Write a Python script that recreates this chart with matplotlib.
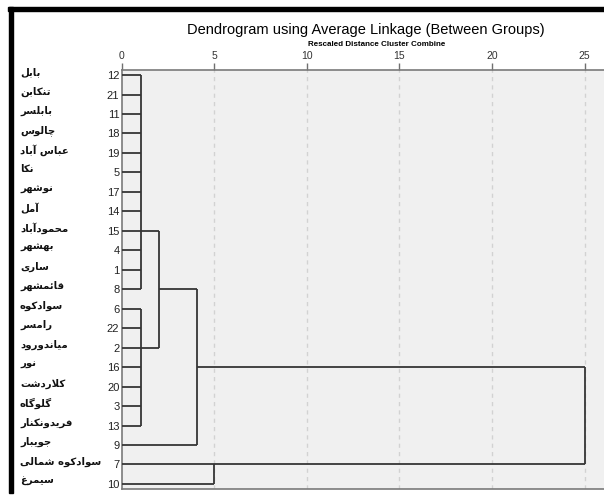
import matplotlib
matplotlib.use("Agg")
import matplotlib.pyplot as plt
from matplotlib.patches import Rectangle
from matplotlib import transforms

# شماره موارد و نام شهرستان ها به ترتیب ردیف های دندروگرام
leaf_ids = [12, 21, 11, 18, 19, 5, 17, 14, 15, 4, 1, 8,
            6, 22, 2, 16, 20, 3, 13, 9, 7, 10]
leaf_names = ["بابل", "تنکابن", "بابلسر", "چالوس", "عباس آباد", "نکا",
              "نوشهر", "آمل", "محمودآباد", "بهشهر", "ساری", "قائمشهر",
              "سوادکوه", "رامسر", "میاندورود", "نور", "کلاردشت", "گلوگاه",
              "فریدونکنار", "جویبار", "سوادکوه شمالی", "سیمرغ"]

# ادغام خوشه ها: اعضا (شماره مورد یا نام خوشه)، فاصله، ردیف نمایش
merge_names = ["A", "B", "AB", "ABJ", "SS", "ALL"]
merge_children = [
    [12, 21, 11, 18, 19, 5, 17, 14, 15, 4, 1, 8],
    [6, 22, 2, 16, 20, 3, 13],
    ["A", "B"],
    ["AB", 9],
    [7, 10],
    ["ABJ", "SS"],
]
merge_dist = [1.05, 1.05, 2.05, 4.05, 5.0, 25.0]
merge_row_of = [15, 2, 8, 16, 7, None]   # case whose row carries the link

x_ticks = [0, 5, 10, 15, 20, 25]

# --- simple arabic/persian shaping (matplotlib has no text layout for it) ---
FORMS = {
    "ا": ("\uFE8D", "\uFE8E", None, None),
    "آ": ("\uFE81", "\uFE82", None, None),
    "د": ("\uFEA9", "\uFEAA", None, None),
    "ر": ("\uFEAD", "\uFEAE", None, None),
    "و": ("\uFEED", "\uFEEE", None, None),
    "ب": ("\uFE8F", "\uFE90", "\uFE91", "\uFE92"),
    "ت": ("\uFE95", "\uFE96", "\uFE97", "\uFE98"),
    "ج": ("\uFE9D", "\uFE9E", "\uFE9F", "\uFEA0"),
    "ح": ("\uFEA1", "\uFEA2", "\uFEA3", "\uFEA4"),
    "س": ("\uFEB1", "\uFEB2", "\uFEB3", "\uFEB4"),
    "ش": ("\uFEB5", "\uFEB6", "\uFEB7", "\uFEB8"),
    "ع": ("\uFEC9", "\uFECA", "\uFECB", "\uFECC"),
    "غ": ("\uFECD", "\uFECE", "\uFECF", "\uFED0"),
    "ف": ("\uFED1", "\uFED2", "\uFED3", "\uFED4"),
    "ق": ("\uFED5", "\uFED6", "\uFED7", "\uFED8"),
    "ل": ("\uFEDD", "\uFEDE", "\uFEDF", "\uFEE0"),
    "م": ("\uFEE1", "\uFEE2", "\uFEE3", "\uFEE4"),
    "ن": ("\uFEE5", "\uFEE6", "\uFEE7", "\uFEE8"),
    "ه": ("\uFEE9", "\uFEEA", "\uFEEB", "\uFEEC"),
    "ئ": ("\uFE89", "\uFE8A", "\uFE8B", "\uFE8C"),
    "چ": ("\uFB7A", "\uFB7B", "\uFB7C", "\uFB7D"),
    "ک": ("\uFB8E", "\uFB8F", "\uFB90", "\uFB91"),
    "گ": ("\uFB92", "\uFB93", "\uFB94", "\uFB95"),
    "ی": ("\uFBFC", "\uFBFD", "\uFBFE", "\uFBFF"),
}
LAM_ALEF = {"ا": ("\uFEFB", "\uFEFC"), "آ": ("\uFEF5", "\uFEF6")}


def dual(c):
    return c in FORMS and FORMS[c][2] is not None


def shape(word):
    out = []
    i = 0
    while i < len(word):
        c = word[i]
        prev = word[i - 1] if i > 0 else ""
        nxt = word[i + 1] if i + 1 < len(word) else ""
        if c not in FORMS:
            out.append(c)
            i += 1
            continue
        jp = dual(prev)
        if c == "ل" and nxt in LAM_ALEF:
            out.append(LAM_ALEF[nxt][1 if jp else 0])
            i += 2
            continue
        jn = dual(c) and nxt in FORMS
        f = FORMS[c]
        if jp and jn:
            out.append(f[3])
        elif jp:
            out.append(f[1])
        elif jn:
            out.append(f[2])
        else:
            out.append(f[0])
        i += 1
    return "".join(reversed(out))


fig = plt.figure(figsize=(6.04, 4.96), dpi=100)
W, H = 604, 496
ax = fig.add_axes([121.5 / W, 1 - 489 / H, 1 - 121.5 / W, (489 - 70) / H])
ax.set_facecolor("#f0f0f0")
ax.set_xlim(0, 26.05)
ax.set_ylim(21.26, -0.26)

line_c = "#353535"
for xt in x_ticks[1:]:
    ax.axvline(xt, color="#d2d2d2", lw=1, ls=(0, (3, 3)), zorder=1)

rows = {n: leaf_ids.index(n) for n in leaf_ids}
dists = {n: 0.0 for n in leaf_ids}
for name, kids, d, rcase in zip(merge_names, merge_children, merge_dist, merge_row_of):
    krows = [rows[k] for k in kids]
    for k in kids:
        ax.plot([dists[k], d], [rows[k], rows[k]], color=line_c, lw=1.3,
                solid_capstyle="butt", zorder=3)
    ax.plot([d, d], [min(krows), max(krows)], color=line_c, lw=1.3,
            solid_capstyle="butt", zorder=3)
    if rcase is not None:
        rows[name] = rows[rcase]
    dists[name] = d

ax.xaxis.tick_top()
ax.set_xticks(x_ticks)
ax.set_xticklabels([str(t) for t in x_ticks], fontsize=7.5, family="Liberation Sans",
                   color="#333333")
ax.tick_params(axis="x", length=5, width=1, color="#707070", pad=1.5)
ax.set_yticks(range(len(leaf_ids)))
ax.set_yticklabels([str(n) for n in leaf_ids], fontsize=8, family="Liberation Sans",
                   color="#222222")
ax.tick_params(axis="y", length=0, pad=1.5)
for side in ["top", "left", "bottom"]:
    ax.spines[side].set_color("#7a7a7a")
    ax.spines[side].set_linewidth(1.2)
ax.spines["right"].set_visible(False)

tr = transforms.blended_transform_factory(fig.transFigure, ax.transData)
for r, nm in enumerate(leaf_names):
    ax.text(20 / W, r - 0.15, shape(nm), transform=tr, ha="left", va="center",
            fontsize=7.3, fontweight="bold", family=["DejaVu Sans"], color="#111111",
            clip_on=False)

fig.text(366 / W, 1 - 30 / H, "Dendrogram using Average Linkage (Between Groups)",
         ha="center", va="center", fontsize=10.5, family="Liberation Sans")
fig.text(377 / W, 1 - 45 / H, "Rescaled Distance Cluster Combine",
         ha="center", va="center", fontsize=5.8, fontweight="bold",
         family="Liberation Sans")

# thick black frame on top and left
fig.patches.append(Rectangle((8 / W, 1 - 11 / H), 1, 4 / H, transform=fig.transFigure,
                             color="black", zorder=10))
fig.patches.append(Rectangle((9 / W, 1 - 493 / H), 4 / W, 486 / H,
                             transform=fig.transFigure, color="black", zorder=10))

fig.savefig("out.png", dpi=100)
